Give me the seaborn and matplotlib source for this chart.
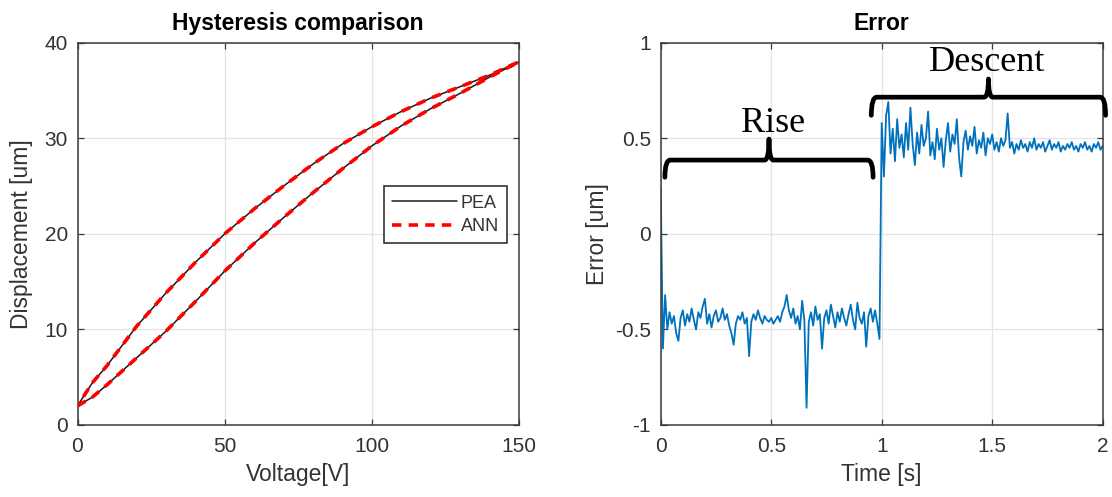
import numpy as np
import pandas as pd
import matplotlib
matplotlib.use("Agg")
import matplotlib.pyplot as plt
from matplotlib.path import Path
from matplotlib.patches import PathPatch
import seaborn as sns

# ---------------- data ----------------
voltage = [0, 5, 10, 20, 30, 40, 50, 60, 70, 80, 90, 100, 110, 120, 130, 140, 150]
pea_rise = [2.0, 2.9, 4.2, 7.0, 9.8, 12.9, 16.1, 19.0, 21.7, 24.3, 26.8, 29.2, 31.3, 33.1, 34.7, 36.4, 38.0]
pea_fall = [2.0, 4.4, 6.2, 10.3, 13.8, 17.0, 20.0, 22.6, 25.0, 27.3, 29.4, 31.2, 32.8, 34.2, 35.4, 36.6, 38.0]
ann_rise = [2.0, 2.9, 4.2, 7.0, 9.8, 12.9, 16.1, 19.0, 21.7, 24.3, 26.8, 29.2, 31.3, 33.1, 34.7, 36.4, 38.0]
ann_fall = [2.0, 4.4, 6.2, 10.3, 13.8, 17.0, 20.0, 22.6, 25.0, 27.3, 29.4, 31.2, 32.8, 34.2, 35.4, 36.6, 38.0]

# error signal, sampled every 0.01 s
err_rise = [0.24, -0.60, -0.32, -0.50, -0.41, -0.47, -0.43, -0.52, -0.56, -0.44,
            -0.40, -0.48, -0.42, -0.46, -0.39, -0.45, -0.50, -0.41, -0.44, -0.38,
            -0.34, -0.47, -0.42, -0.49, -0.43, -0.40, -0.46, -0.44, -0.39, -0.45,
            -0.42, -0.48, -0.52, -0.58, -0.47, -0.43, -0.45, -0.41, -0.47, -0.44,
            -0.64, -0.46, -0.42, -0.45, -0.40, -0.44, -0.47, -0.43, -0.45, -0.46,
            -0.44, -0.47, -0.45, -0.43, -0.46, -0.41, -0.38, -0.32, -0.40, -0.44,
            -0.39, -0.47, -0.43, -0.50, -0.35, -0.45, -0.91, -0.46, -0.41, -0.48,
            -0.38, -0.45, -0.42, -0.60, -0.44, -0.40, -0.47, -0.37, -0.43, -0.49,
            -0.41, -0.46, -0.39, -0.44, -0.48, -0.42, -0.37, -0.45, -0.50, -0.36,
            -0.44, -0.47, -0.41, -0.59, -0.43, -0.39, -0.46, -0.40, -0.47, -0.55]
err_descent = [0.58, 0.30, 0.62, 0.69, 0.42, 0.55, 0.38, 0.60, 0.45, 0.52,
               0.40, 0.58, 0.44, 0.66, 0.47, 0.36, 0.53, 0.42, 0.57, 0.46,
               0.50, 0.64, 0.41, 0.48, 0.39, 0.55, 0.44, 0.50, 0.35, 0.49,
               0.58, 0.43, 0.52, 0.47, 0.60, 0.40, 0.30, 0.48, 0.54, 0.44,
               0.51, 0.46, 0.56, 0.42, 0.49, 0.45, 0.53, 0.41, 0.50, 0.47,
               0.52, 0.44, 0.48, 0.43, 0.50, 0.46, 0.49, 0.63, 0.45, 0.48,
               0.42, 0.47, 0.44, 0.49, 0.45, 0.47, 0.43, 0.48, 0.45, 0.50,
               0.44, 0.47, 0.45, 0.48, 0.43, 0.46, 0.49, 0.44, 0.47, 0.45,
               0.48, 0.43, 0.46, 0.44, 0.47, 0.45, 0.48, 0.44, 0.46, 0.43,
               0.47, 0.45, 0.48, 0.44, 0.46, 0.43, 0.47, 0.45, 0.48, 0.44,
               0.46]
dt = 0.01

v_ticks = [0, 50, 100, 150]
d_ticks = [0, 10, 20, 30, 40]
t_ticks = [0, 0.5, 1, 1.5, 2]
e_ticks = [-1, -0.5, 0, 0.5, 1]
t_tick_labels = ["0", "0.5", "1", "1.5", "2"]
e_tick_labels = ["-1", "-0.5", "0", "0.5", "1"]

# annotation braces: (x_start, x_end, y_bar, end_drop, tip_height), labels
rise_brace = (0.019, 0.961, 0.386, 0.09, 0.11)
descent_brace = (0.953, 2.013, 0.715, 0.095, 0.095)
rise_label = ("Rise", 0.51, 0.531)
descent_label = ("Descent", 1.476, 0.851)

# ---------------- style ----------------
sns.set_theme(style="white")
plt.rcParams["font.family"] = ["Liberation Sans", "DejaVu Sans"]
plt.rcParams["axes.unicode_minus"] = False

TXT = "#333333"
SPINE = "#3a3a3a"
GRID = "#e3e3e3"

fig = plt.figure(figsize=(11.12, 4.97), dpi=100)
ax1 = fig.add_axes([77.5 / 1112, 72 / 497, 441.5 / 1112, 382.3 / 497])
ax2 = fig.add_axes([660.7 / 1112, 72 / 497, 442 / 1112, 382.3 / 497])


def style_axes(ax):
    ax.set_facecolor("white")
    ax.grid(True, color=GRID, lw=0.9)
    ax.set_axisbelow(True)
    for s in ax.spines.values():
        s.set_visible(True)
        s.set_color(SPINE)
        s.set_linewidth(1.1)
    ax.tick_params(axis="both", which="both", direction="in", length=4, width=0.9,
                   color=SPINE, labelcolor=TXT, labelsize=15,
                   top=True, right=True, bottom=True, left=True)
    ax.tick_params(axis="x", pad=9)
    ax.tick_params(axis="y", pad=7)


# ---------------- left: hysteresis ----------------
loop_v = voltage + voltage[::-1]
df_pea = pd.DataFrame({"v": loop_v, "d": pea_rise + pea_fall[::-1]})
df_ann = pd.DataFrame({"v": loop_v, "d": ann_rise + ann_fall[::-1]})

DASH = (0, (2.6, 2.0))
sns.lineplot(data=df_pea, x="v", y="d", sort=False, estimator=None, ax=ax1,
             color="#1a1a1a", lw=1.1, label="PEA")
sns.lineplot(data=df_ann, x="v", y="d", sort=False, estimator=None, ax=ax1,
             color="#ff0000", lw=2.6, dashes=False, label="ANN")
ax1.lines[1].set_linestyle(DASH)
ax1.lines[0].set_zorder(2)
ax1.lines[1].set_zorder(3)

style_axes(ax1)
ax1.set_xlim(0, 150)
ax1.set_ylim(0, 40)
ax1.set_xticks(v_ticks)
ax1.set_yticks(d_ticks)
ax1.set_xlabel("Voltage[V]", fontsize=16.5, color=TXT, labelpad=5)
ax1.set_ylabel("Displacement [um]", fontsize=16.5, color=TXT, labelpad=8)
ax1.set_title("Hysteresis comparison", fontsize=16.5, fontweight="bold",
              color="black", pad=9)

h, l = ax1.get_legend_handles_labels()
leg = ax1.legend(h, l, loc="lower left", bbox_to_anchor=(0.694, 0.476),
                 fontsize=13, handlelength=3.6, handletextpad=0.2,
                 borderpad=0.45, labelspacing=0.35, frameon=True,
                 fancybox=False, framealpha=1, borderaxespad=0)
leg.get_frame().set_edgecolor("#222222")
leg.get_frame().set_linewidth(1.1)
leg.legend_handles[1].set_linestyle(DASH)
for t in leg.get_texts():
    t.set_color(TXT)

# ---------------- right: error ----------------
n_r = len(err_rise)
t_all = [round(i * dt, 2) for i in range(n_r + len(err_descent))]
df_err = pd.DataFrame({"t": t_all, "e": err_rise + err_descent})
sns.lineplot(data=df_err, x="t", y="e", sort=False, estimator=None, ax=ax2,
             color="#0072BD", lw=1.3)

style_axes(ax2)
ax2.set_xlim(0, 2)
ax2.set_ylim(-1, 1)
ax2.set_xticks(t_ticks)
ax2.set_xticklabels(t_tick_labels)
ax2.set_yticks(e_ticks)
ax2.set_yticklabels(e_tick_labels)
ax2.set_xlabel("Time [s]", fontsize=16.5, color=TXT, labelpad=5)
ax2.set_ylabel("Error [um]", fontsize=16.5, color=TXT, labelpad=4)
ax2.set_title("Error", fontsize=16.5, fontweight="bold", color="black", pad=9)


def brace(ax, spec):
    x0, x1, y, drop, tip = spec
    xm = (x0 + x1) / 2
    r = 0.025
    r2 = 0.02
    verts = [(x0, y - drop), (x0, y), (x0 + r, y),
             (xm - r2, y), (xm, y), (xm, y + tip),
             (xm, y), (xm + r2, y),
             (x1 - r, y), (x1, y), (x1, y - drop)]
    codes = [Path.MOVETO, Path.CURVE3, Path.CURVE3,
             Path.LINETO, Path.CURVE3, Path.CURVE3,
             Path.CURVE3, Path.CURVE3,
             Path.LINETO, Path.CURVE3, Path.CURVE3]
    p = PathPatch(Path(verts, codes), fill=False, lw=3.4, ec="black",
                  capstyle="round", joinstyle="round", clip_on=False, zorder=5)
    ax.add_patch(p)


brace(ax2, rise_brace)
brace(ax2, descent_brace)
for txt, x, y in (rise_label, descent_label):
    ax2.text(x, y, txt, ha="center", va="baseline", fontsize=26,
             family=["Liberation Serif", "DejaVu Serif"], color="black", zorder=6)

fig.savefig("out.png", dpi=100)
